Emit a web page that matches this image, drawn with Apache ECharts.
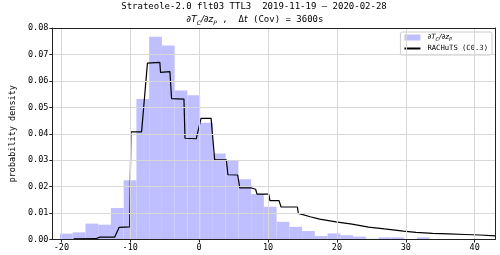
<!DOCTYPE html>
<html><head><meta charset="utf-8">
<script src="https://cdn.jsdelivr.net/npm/echarts@6/dist/echarts.min.js"></script>
<style>html,body{margin:0;padding:0;background:#fff}#c{width:500px;height:255px}</style>
</head><body><div id="c"></div>
<script>
// ---- data ----
const binEdges = [-20.2, -18.35, -16.5, -14.65, -12.8, -10.95, -9.1, -7.25, -5.4, -3.55,
  -1.7, 0.15, 2.0, 3.85, 5.7, 7.55, 9.4, 11.25, 13.1, 14.95,
  16.8, 18.65, 20.5, 22.35, 24.2, 26.05, 27.9, 29.75, 31.6, 33.45];
const histValues = [0.0022, 0.0027, 0.0060, 0.0056, 0.0119, 0.0224, 0.0531, 0.0767, 0.0734, 0.0564,
  0.0546, 0.0442, 0.0325, 0.0298, 0.0228, 0.0172, 0.0124, 0.0067, 0.0048, 0.0032,
  0.0013, 0.0023, 0.0016, 0.0011, 0.0003, 0.0008, 0.0008, 0.0000, 0.0008];
const lineX = [-18.2, -15.0, -14.4, -12.25, -11.6, -10.07, -9.9, -8.35, -7.5, -5.7,
  -5.6, -4.24, -4.0, -2.2, -2.05, -0.42, 0.28, 1.74, 2.26, 3.95,
  4.18, 5.6, 5.9, 7.6, 8.2, 8.4, 10.1, 10.28, 11.6, 11.9,
  14.27, 14.4, 16.13, 17.5, 19.86, 22.2, 24.6, 26.9, 29.65, 31.5,
  33.9, 36.2, 38.6, 40.8, 43.0];
const lineY = [0.0002, 0.0003, 0.0009, 0.0009, 0.0046, 0.0048, 0.0407, 0.0407, 0.0667, 0.0670,
  0.0632, 0.0635, 0.0533, 0.0531, 0.0383, 0.0381, 0.0458, 0.0458, 0.0301, 0.0301,
  0.0245, 0.0244, 0.0195, 0.0195, 0.0190, 0.0172, 0.0172, 0.0147, 0.0147, 0.0123,
  0.0123, 0.0099, 0.0086, 0.0077, 0.0067, 0.0058, 0.0047, 0.0040, 0.0032, 0.0027,
  0.0023, 0.0021, 0.0019, 0.0017, 0.0014];
const xTicks = [-20, -10, 0, 10, 20, 30, 40];
const xRange = [-21.3, 42.95];
const yRange = [0, 0.08];
const yStep = 0.01;
const titleLine1 = 'Strateole-2.0 flt03 TTL3  2019-11-19 \u2013 2020-02-28';
const histName = 'hist';
const lineName = 'RACHuTS (C0.3)';
const yName = 'probability density';

// ---- build ----
const MONO = '"DejaVu Sans Mono", monospace';
const SANS = '"DejaVu Sans", sans-serif';
const histData = histValues.map((h, i) => [binEdges[i], binEdges[i + 1], h]);
const lineData = lineX.map((x, i) => [x, lineY[i]]);

const chart = echarts.init(document.getElementById('c'), null, {renderer: 'canvas'});
const axisLineStyle = {color: '#222', width: 1};
chart.setOption({
  animation: false,
  backgroundColor: '#fff',
  graphic: [
    {type: 'text', x: 254, y: 7, z: 100, style: {text: titleLine1, font: '9px ' + MONO, fill: '#000', align: 'center', verticalAlign: 'middle'}},
    {type: 'text', x: 255, y: 20, z: 100, style: {
      text: '{m|\u2202T}{s|C}{m|/\u2202z}{s|P}{t| ,  \u0394}{m|t}{t| (Cov) = 3600s}',
      align: 'center', verticalAlign: 'middle', fill: '#000',
      rich: {
        m: {fontFamily: SANS, fontStyle: 'italic', fontSize: 9, lineHeight: 12, verticalAlign: 'middle'},
        s: {fontFamily: SANS, fontStyle: 'italic', fontSize: 6, lineHeight: 12, verticalAlign: 'bottom'},
        t: {fontFamily: MONO, fontSize: 9, lineHeight: 12, verticalAlign: 'middle'}
      }
    }}
  ],
  grid: {left: 36, right: 5, top: 28, bottom: 15.5, containLabel: false},
  legend: {
    orient: 'vertical', right: 8, top: 32,
    itemWidth: 16, itemHeight: 6, itemGap: 3,
    padding: [2, 4, 3, 3],
    backgroundColor: 'rgba(255,255,255,0.85)', borderColor: '#cccccc', borderWidth: 1, borderRadius: 2,
    data: [{name: histName, icon: 'rect'}, {name: lineName, itemStyle: {opacity: 0}}],
    formatter: (n) => n === histName ? '{m|\u2202T}{s|C}{m|/\u2202z}{s|P}' : n,
    textStyle: {
      fontFamily: MONO, fontSize: 7.2, color: '#000', padding: [0, 0, 0, 2],
      rich: {
        m: {fontFamily: SANS, fontStyle: 'italic', fontSize: 7.2, lineHeight: 9, verticalAlign: 'middle'},
        s: {fontFamily: SANS, fontStyle: 'italic', fontSize: 5, lineHeight: 9, verticalAlign: 'bottom'}
      }
    }
  },
  xAxis: [{
    type: 'value', min: xRange[0], max: xRange[1], z: 10,
    axisLine: {show: true, onZero: false, lineStyle: axisLineStyle},
    axisTick: {show: true, length: 3, inside: false, customValues: xTicks, lineStyle: {color: '#222'}},
    axisLabel: {customValues: xTicks, fontFamily: MONO, fontSize: 8.5, color: '#000', margin: 4},
    splitLine: {show: true, lineStyle: {color: '#d8d8d8', width: 1}}
  }, {
    type: 'value', position: 'top', min: xRange[0], max: xRange[1], z: 10,
    axisLine: {show: true, onZero: false, lineStyle: axisLineStyle},
    axisTick: {show: false}, axisLabel: {show: false}, splitLine: {show: false}
  }],
  yAxis: [{
    type: 'value', min: yRange[0], max: yRange[1], interval: yStep, z: 10,
    name: yName, nameLocation: 'middle', nameGap: 31,
    nameTextStyle: {fontFamily: MONO, fontSize: 8.5, color: '#000'},
    axisLine: {show: true, onZero: false, lineStyle: axisLineStyle},
    axisTick: {show: true, length: 3, lineStyle: {color: '#222'}},
    axisLabel: {fontFamily: MONO, fontSize: 8.5, color: '#000', margin: 4, formatter: v => v.toFixed(2)},
    splitLine: {show: true, lineStyle: {color: '#d8d8d8', width: 1}}
  }, {
    type: 'value', position: 'right', min: yRange[0], max: yRange[1], interval: yStep, z: 10,
    axisLine: {show: true, onZero: false, lineStyle: axisLineStyle},
    axisTick: {show: false}, axisLabel: {show: false}, splitLine: {show: false}
  }],
  series: [{
    name: histName, type: 'custom', xAxisIndex: 0, yAxisIndex: 0,
    itemStyle: {color: '#bfbfff'},
    encode: {x: [0, 1], y: 2},
    data: histData,
    renderItem: (params, api) => {
      const p0 = api.coord([api.value(0), api.value(2)]);
      const p1 = api.coord([api.value(1), 0]);
      return {type: 'rect', shape: {x: p0[0], y: p0[1], width: p1[0] - p0[0], height: p1[1] - p0[1]},
        style: {fill: '#bfbfff'}};
    }
  }, {
    name: lineName, type: 'line', xAxisIndex: 0, yAxisIndex: 0,
    data: lineData, symbol: 'none', clip: true,
    lineStyle: {color: '#000', width: 1.2}, itemStyle: {color: '#000'}
  }]
});
</script></body></html>
